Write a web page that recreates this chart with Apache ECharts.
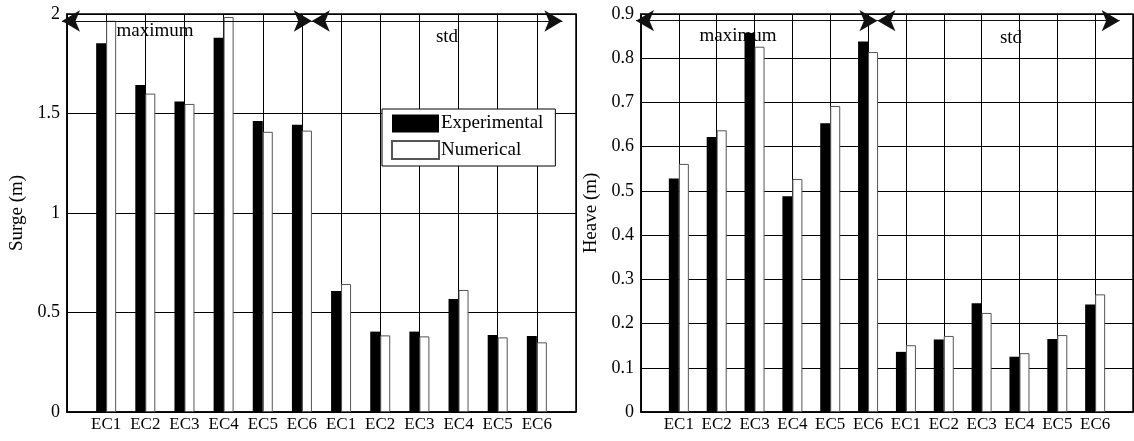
<!DOCTYPE html>
<html>
<head>
<meta charset="utf-8">
<script src="https://cdn.jsdelivr.net/npm/echarts@6/dist/echarts.min.js"></script>
<style>
  html, body { margin: 0; padding: 0; background: #fff; }
  #chart { width: 1134px; height: 441px; }
</style>
</head>
<body>
<div id="chart"></div>
<script>
// Cases and the two statistics shown for each (maximum, then standard deviation)
const cases = ['EC1', 'EC2', 'EC3', 'EC4', 'EC5', 'EC6'];
const groups = ['maximum', 'std'];
const tickLabels = cases.concat(cases);

// Surge (m): maximum for EC1..EC6, then std for EC1..EC6
const surgeExperimental = [1.853, 1.643, 1.560, 1.881, 1.462, 1.444, 0.608, 0.404, 0.404, 0.568, 0.387, 0.382];
const surgeNumerical    = [1.966, 1.600, 1.548, 1.985, 1.408, 1.414, 0.643, 0.385, 0.380, 0.613, 0.375, 0.350];

// Heave (m): maximum for EC1..EC6, then std for EC1..EC6
const heaveExperimental = [0.528, 0.622, 0.857, 0.488, 0.653, 0.838, 0.136, 0.164, 0.246, 0.125, 0.165, 0.243];
const heaveNumerical    = [0.561, 0.637, 0.826, 0.527, 0.692, 0.814, 0.151, 0.172, 0.224, 0.133, 0.174, 0.266];

// Extent of the "maximum" and "std" brackets along the x axis
const bracketSpans = [[0, 6.38], [6.38, 12.78]];

const SERIF = '"Liberation Serif", "DejaVu Serif", serif';

function toPoints(values) {
  return values.map((v, i) => [i + 1, v]);
}

function xAxisFor(gridIndex) {
  return {
    type: 'value', gridIndex, min: 0, max: 13, interval: 1,
    axisLine: { show: true, lineStyle: { color: '#000', width: 1.5 } },
    axisTick: { show: false },
    splitLine: { show: true, lineStyle: { color: '#000', width: 1 } },
    axisLabel: {
      color: '#000', fontFamily: SERIF, fontSize: 17, margin: 4,
      showMinLabel: false, showMaxLabel: false,
      formatter: v => tickLabels[v - 1] || ''
    }
  };
}

function yAxisFor(gridIndex, max, interval, name) {
  return {
    type: 'value', gridIndex, min: 0, max, interval,
    name, nameLocation: 'middle', nameGap: 40,
    nameTextStyle: { color: '#000', fontFamily: SERIF, fontSize: 19 },
    axisLine: { show: true, lineStyle: { color: '#000', width: 1.5 } },
    axisTick: { show: false },
    splitLine: { show: true, lineStyle: { color: '#000', width: 1 } },
    axisLabel: { color: '#000', fontFamily: SERIF, fontSize: 18, margin: 7 }
  };
}

function brackets(yLevel) {
  return {
    silent: true,
    symbol: ['arrow', 'arrow'],
    symbolSize: [16, 18],
    lineStyle: { color: '#111', width: 1, type: 'solid' },
    label: { show: false },
    z: 10,
    data: bracketSpans.map(s => [
      { coord: [s[0], yLevel] },
      { coord: [s[1], yLevel] }
    ])
  };
}

function barPair(gridIndex, exp, num, yLevel) {
  return [
    {
      name: 'Experimental', type: 'bar',
      xAxisIndex: gridIndex, yAxisIndex: gridIndex,
      data: toPoints(exp), barWidth: 10, barGap: '0%',
      itemStyle: { color: '#000' },
      markLine: brackets(yLevel)
    },
    {
      name: 'Numerical', type: 'bar',
      xAxisIndex: gridIndex, yAxisIndex: gridIndex,
      data: toPoints(num), barWidth: 10, barGap: '0%',
      itemStyle: { color: '#fff', borderColor: '#555', borderWidth: 1 }
    }
  ];
}

function groupText(x, y, text) {
  return {
    type: 'text', x, y, z: 20,
    style: { text, fill: '#000', font: '19px ' + SERIF, textAlign: 'center', textVerticalAlign: 'middle' }
  };
}

const chart = echarts.init(document.getElementById('chart'), null, { renderer: 'canvas' });

chart.setOption({
  animation: false,
  backgroundColor: '#fff',
  grid: [
    { left: 67, top: 14, width: 509, height: 398, show: true, borderColor: '#000', borderWidth: 1.5 },
    { left: 641, top: 14, width: 492, height: 398, show: true, borderColor: '#000', borderWidth: 1.5 }
  ],
  xAxis: [xAxisFor(0), xAxisFor(1)],
  yAxis: [yAxisFor(0, 2, 0.5, 'Surge (m)'), yAxisFor(1, 0.9, 0.1, 'Heave (m)')],
  legend: {
    left: 382, top: 109, orient: 'vertical',
    itemWidth: 47, itemHeight: 18, itemGap: 7,
    padding: [5, 12, 6, 9],
    borderColor: '#000', borderWidth: 1, backgroundColor: '#fff',
    icon: 'rect',
    textStyle: { color: '#000', fontFamily: SERIF, fontSize: 19, padding: [0, 0, 0, -3] },
    data: ['Experimental', 'Numerical']
  },
  series: [
    ...barPair(0, surgeExperimental, surgeNumerical, 1.965),
    ...barPair(1, heaveExperimental, heaveNumerical, 0.885)
  ],
  graphic: [
    groupText(155, 31, groups[0]),
    groupText(447, 37, groups[1]),
    groupText(738, 36, groups[0]),
    groupText(1011, 38, groups[1])
  ]
});
</script>
</body>
</html>
